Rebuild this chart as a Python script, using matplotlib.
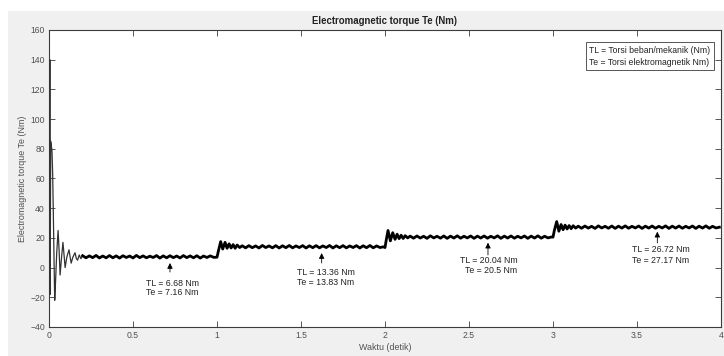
import numpy as np
import matplotlib
matplotlib.use("Agg")
import matplotlib.pyplot as plt
from matplotlib.patches import Rectangle

plt.rcParams['font.family'] = ['Liberation Sans', 'DejaVu Sans']

# ---- data ----
# start-up transient
t_start = [0.000, 0.002, 0.005, 0.007, 0.010, 0.014, 0.018, 0.022, 0.026, 0.030,
           0.034, 0.038, 0.046, 0.054, 0.060, 0.066, 0.074, 0.083, 0.090, 0.096,
           0.106, 0.119, 0.126, 0.132, 0.142, 0.155, 0.163, 0.170, 0.180, 0.190]
te_start = [0, 0, 140, -18, 85, 82, 78, 62, 35, 5,
            -22, -12, 10, 25, 12, -5, 6, 17, 8, 0,
            7, 12, 7, 3, 7, 10, 6, 5, 8.5, 6]

dt = 0.02
# steady section 1 (t = 0.20 ... 0.98)
t0_steady1 = 0.20
te_steady1 = [8.0, 6.6, 7.9, 6.7, 8.2, 6.5, 7.8, 6.6, 8.1, 6.6,
              7.9, 6.4, 8.0, 6.8, 7.8, 6.5, 8.2, 6.7, 7.9, 6.6,
              7.7, 6.8, 8.1, 6.4, 7.9, 6.6, 8.0, 6.7, 7.8, 6.5,
              8.1, 6.7, 7.9, 6.6, 8.0, 6.4, 7.8, 6.8, 7.9, 6.9]

# load step at t = 1 s
t_step2 = [1.000, 1.010, 1.022, 1.034, 1.048, 1.060, 1.072, 1.084, 1.096, 1.108, 1.120, 1.135]
te_step2 = [7.0, 12.0, 17.5, 12.5, 17.0, 13.0, 16.0, 13.2, 15.5, 13.0, 15.2, 13.5]
t0_steady2 = 1.15
te_steady2 = [14.7, 13.3, 14.8, 13.4, 14.6, 13.2, 14.9, 13.5, 14.6, 13.3,
              14.8, 13.2, 14.7, 13.4, 14.9, 13.3, 14.6, 13.5, 14.8, 13.2,
              14.7, 13.4, 14.8, 13.3, 14.6, 13.5, 14.9, 13.2, 14.7, 13.4,
              14.8, 13.3, 14.6, 13.5, 14.8, 13.2, 14.7, 13.4, 14.9, 13.3,
              14.6, 13.5, 14.0]

# load step at t = 2 s
t_step3 = [2.000, 2.008, 2.018, 2.032, 2.046, 2.060, 2.072, 2.084, 2.096, 2.108, 2.120, 2.135]
te_step3 = [13.5, 19.0, 25.0, 18.0, 23.5, 19.0, 22.5, 19.5, 21.8, 19.6, 21.5, 20.0]
t0_steady3 = 2.15
te_steady3 = [21.2, 19.8, 21.3, 19.9, 21.1, 19.7, 21.4, 20.0, 21.1, 19.8,
              21.3, 19.7, 21.2, 19.9, 21.4, 19.8, 21.1, 20.0, 21.3, 19.7,
              21.2, 19.9, 21.3, 19.8, 21.1, 20.0, 21.4, 19.7, 21.2, 19.9,
              21.3, 19.8, 21.1, 20.0, 21.3, 19.7, 21.2, 19.9, 21.4, 19.8,
              21.1, 20.0, 20.6]

# load step at t = 3 s
t_step4 = [3.000, 3.008, 3.022, 3.035, 3.048, 3.060, 3.072, 3.084, 3.096, 3.108, 3.120, 3.135]
te_step4 = [20.5, 25.0, 31.0, 24.5, 29.0, 25.5, 28.6, 26.0, 28.3, 26.2, 28.2, 26.6]
t0_steady4 = 3.15
te_steady4 = [27.9, 26.5, 28.0, 26.6, 27.8, 26.4, 28.1, 26.7, 27.8, 26.5,
              28.0, 26.4, 27.9, 26.6, 28.1, 26.5, 27.8, 26.7, 28.0, 26.4,
              27.9, 26.6, 28.0, 26.5, 27.8, 26.7, 28.1, 26.4, 27.9, 26.6,
              28.0, 26.5, 27.8, 26.7, 28.0, 26.4, 27.9, 26.6, 28.1, 26.5,
              27.8, 26.7, 27.2]

# annotations
ann_x = [0.72, 1.623, 2.613, 3.621]
ann_tip = [3.1, 9.8, 16.8, 24.2]
ann_tail = [-3.0, 3.1, 8.5, 16.6]
ann_tx = [0.577, 1.476, 2.788, 3.468]
ann_ty1 = [-10.4, -3.0, 4.6, 11.9]
ann_ty2 = [-16.9, -9.7, -2.1, 5.1]
ann_ha = ['left', 'left', 'right', 'left']
ann_tl = ['TL = 6.68 Nm', 'TL = 13.36 Nm', 'TL = 20.04 Nm', 'TL = 26.72 Nm']
ann_te = ['Te = 7.16 Nm', 'Te = 13.83 Nm', 'Te = 20.5 Nm', 'Te = 27.17 Nm']

x_ticks = [0, 0.5, 1, 1.5, 2, 2.5, 3, 3.5, 4]
x_ticklabels = ['0', '0.5', '1', '1.5', '2', '2.5', '3', '3.5', '4']
y_ticks = [-40, -20, 0, 20, 40, 60, 80, 100, 120, 140, 160]


def steady_times(t0, vals):
    return [t0 + i * dt for i in range(len(vals))]


t_rest = (steady_times(t0_steady1, te_steady1) + t_step2 + steady_times(t0_steady2, te_steady2)
          + t_step3 + steady_times(t0_steady3, te_steady3)
          + t_step4 + steady_times(t0_steady4, te_steady4))
te_rest = te_steady1 + te_step2 + te_steady2 + te_step3 + te_steady3 + te_step4 + te_steady4

# ---- figure ----
W, H = 724, 356
fig = plt.figure(figsize=(W / 100, H / 100), dpi=100, facecolor='white')
fig.patches.append(Rectangle((8 / W, 0), 1 - 8 / W, 1 - 11 / H, transform=fig.transFigure,
                             facecolor='#f0f0f0', edgecolor='none', zorder=-10))

ax = fig.add_axes([49 / W, 1 - 327 / H, (721 - 49) / W, (327 - 30) / H])
ax.set_facecolor('white')

ax.plot(t_start + [t_rest[0]], te_start + [te_rest[0]], color='#333333', lw=0.9, zorder=3)
ax.plot(t_rest, te_rest, color='black', lw=2.0, zorder=3)

ax.set_xlim(0, 4)
ax.set_ylim(-40, 160)
ax.set_xticks(x_ticks)
ax.set_xticklabels(x_ticklabels)
ax.set_yticks(y_ticks)

gray = '#505050'
for s in ax.spines.values():
    s.set_color('#3c3c3c')
    s.set_linewidth(0.8)
ax.tick_params(direction='in', length=4, width=0.6, colors='#3c3c3c',
               top=True, right=True, labelsize=6.2, labelcolor=gray, pad=3)

ax.set_title('Electromagnetic torque Te (Nm)', fontsize=6.9, fontweight='bold',
             color='#222222', pad=4)
ax.set_xlabel('Waktu (detik)', fontsize=6.4, color=gray, labelpad=2)
ax.set_ylabel('Electromagnetic torque Te (Nm)', fontsize=6.4, color=gray, labelpad=2)

for i in range(len(ann_x)):
    ax.annotate('', xy=(ann_x[i], ann_tip[i]), xytext=(ann_x[i], ann_tail[i]),
                arrowprops=dict(arrowstyle='-|>', color='black', lw=0.6,
                                mutation_scale=8, shrinkA=0, shrinkB=0))
    ax.text(ann_tx[i], ann_ty1[i], ann_tl[i], fontsize=6.3, color='#222222',
            ha=ann_ha[i], va='center')
    ax.text(ann_tx[i], ann_ty2[i], ann_te[i], fontsize=6.3, color='#222222',
            ha=ann_ha[i], va='center')

ax.text(0.8036, 0.9115, 'TL = Torsi beban/mekanik (Nm)\nTe = Torsi elektromagnetik Nm)',
        transform=ax.transAxes, fontsize=6.2, color='#222222', ha='left', va='center',
        linespacing=1.4,
        bbox=dict(boxstyle='square,pad=0.4', facecolor='white', edgecolor='#555555', lw=0.7))

fig.savefig('out.png', dpi=100, facecolor=fig.get_facecolor())
